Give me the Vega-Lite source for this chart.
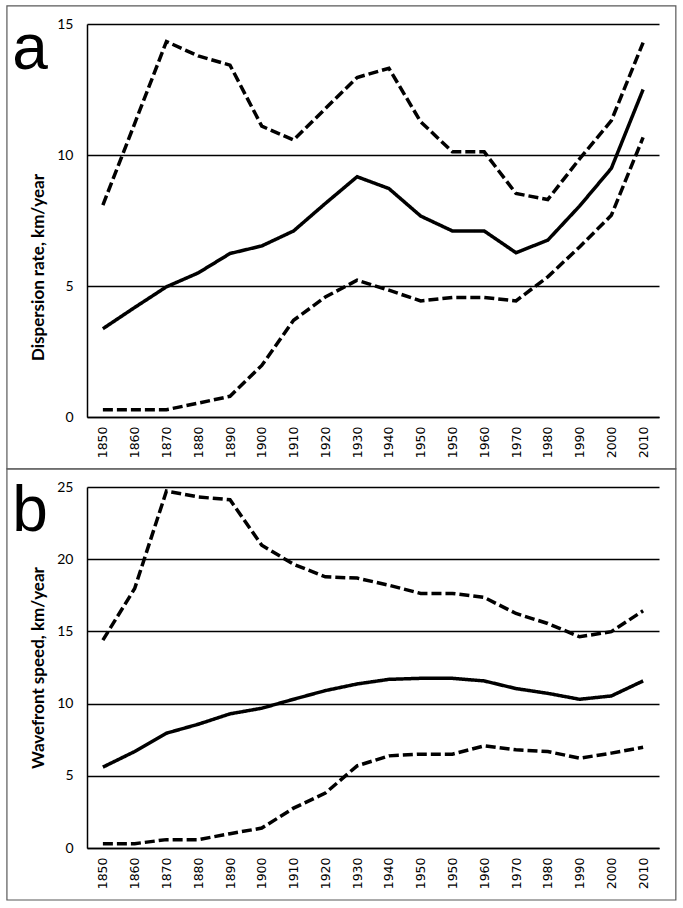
{
  "$schema": "https://vega.github.io/schema/vega-lite/v6.json",
  "padding": {"left": 6, "top": 5, "right": 2, "bottom": 2},
  "background": "white",
  "spacing": 70,
  "bounds": "flush",
  "config": {
    "view": {"stroke": null}
  },
  "datasets": {
    "a": [
      {"i":0,"year":"1850","s":"hi","v":8.09},{"i":1,"year":"1860","s":"hi","v":11.2},{"i":2,"year":"1870","s":"hi","v":14.33},{"i":3,"year":"1880","s":"hi","v":13.78},{"i":4,"year":"1890","s":"hi","v":13.43},{"i":5,"year":"1900","s":"hi","v":11.1},{"i":6,"year":"1910","s":"hi","v":10.57},{"i":7,"year":"1920","s":"hi","v":11.77},{"i":8,"year":"1930","s":"hi","v":12.96},{"i":9,"year":"1940","s":"hi","v":13.31},{"i":10,"year":"1950","s":"hi","v":11.27},{"i":11,"year":"1950","s":"hi","v":10.12},{"i":12,"year":"1960","s":"hi","v":10.12},{"i":13,"year":"1970","s":"hi","v":8.53},{"i":14,"year":"1980","s":"hi","v":8.3},{"i":15,"year":"1990","s":"hi","v":9.85},{"i":16,"year":"2000","s":"hi","v":11.31},{"i":17,"year":"2010","s":"hi","v":14.29},
      {"i":0,"year":"1850","s":"mid","v":3.37},{"i":1,"year":"1860","s":"mid","v":4.18},{"i":2,"year":"1870","s":"mid","v":4.97},{"i":3,"year":"1880","s":"mid","v":5.5},{"i":4,"year":"1890","s":"mid","v":6.24},{"i":5,"year":"1900","s":"mid","v":6.53},{"i":6,"year":"1910","s":"mid","v":7.1},{"i":7,"year":"1920","s":"mid","v":8.15},{"i":8,"year":"1930","s":"mid","v":9.17},{"i":9,"year":"1940","s":"mid","v":8.72},{"i":10,"year":"1950","s":"mid","v":7.67},{"i":11,"year":"1950","s":"mid","v":7.1},{"i":12,"year":"1960","s":"mid","v":7.1},{"i":13,"year":"1970","s":"mid","v":6.27},{"i":14,"year":"1980","s":"mid","v":6.75},{"i":15,"year":"1990","s":"mid","v":8.05},{"i":16,"year":"2000","s":"mid","v":9.49},{"i":17,"year":"2010","s":"mid","v":12.5},
      {"i":0,"year":"1850","s":"lo","v":0.28},{"i":1,"year":"1860","s":"lo","v":0.28},{"i":2,"year":"1870","s":"lo","v":0.28},{"i":3,"year":"1880","s":"lo","v":0.53},{"i":4,"year":"1890","s":"lo","v":0.79},{"i":5,"year":"1900","s":"lo","v":1.97},{"i":6,"year":"1910","s":"lo","v":3.69},{"i":7,"year":"1920","s":"lo","v":4.58},{"i":8,"year":"1930","s":"lo","v":5.22},{"i":9,"year":"1940","s":"lo","v":4.84},{"i":10,"year":"1950","s":"lo","v":4.43},{"i":11,"year":"1950","s":"lo","v":4.56},{"i":12,"year":"1960","s":"lo","v":4.56},{"i":13,"year":"1970","s":"lo","v":4.43},{"i":14,"year":"1980","s":"lo","v":5.35},{"i":15,"year":"1990","s":"lo","v":6.49},{"i":16,"year":"2000","s":"lo","v":7.7},{"i":17,"year":"2010","s":"lo","v":10.67}
    ],
    "b": [
      {"i":0,"year":"1850","s":"hi","v":14.4},{"i":1,"year":"1860","s":"hi","v":17.97},{"i":2,"year":"1870","s":"hi","v":24.72},{"i":3,"year":"1880","s":"hi","v":24.31},{"i":4,"year":"1890","s":"hi","v":24.12},{"i":5,"year":"1900","s":"hi","v":20.97},{"i":6,"year":"1910","s":"hi","v":19.65},{"i":7,"year":"1920","s":"hi","v":18.78},{"i":8,"year":"1930","s":"hi","v":18.69},{"i":9,"year":"1940","s":"hi","v":18.2},{"i":10,"year":"1950","s":"hi","v":17.63},{"i":11,"year":"1950","s":"hi","v":17.63},{"i":12,"year":"1960","s":"hi","v":17.35},{"i":13,"year":"1970","s":"hi","v":16.24},{"i":14,"year":"1980","s":"hi","v":15.55},{"i":15,"year":"1990","s":"hi","v":14.63},{"i":16,"year":"2000","s":"hi","v":14.98},{"i":17,"year":"2010","s":"hi","v":16.43},
      {"i":0,"year":"1850","s":"mid","v":5.6},{"i":1,"year":"1860","s":"mid","v":6.68},{"i":2,"year":"1870","s":"mid","v":7.95},{"i":3,"year":"1880","s":"mid","v":8.57},{"i":4,"year":"1890","s":"mid","v":9.29},{"i":5,"year":"1900","s":"mid","v":9.68},{"i":6,"year":"1910","s":"mid","v":10.3},{"i":7,"year":"1920","s":"mid","v":10.9},{"i":8,"year":"1930","s":"mid","v":11.36},{"i":9,"year":"1940","s":"mid","v":11.68},{"i":10,"year":"1950","s":"mid","v":11.75},{"i":11,"year":"1950","s":"mid","v":11.75},{"i":12,"year":"1960","s":"mid","v":11.57},{"i":13,"year":"1970","s":"mid","v":11.04},{"i":14,"year":"1980","s":"mid","v":10.71},{"i":15,"year":"1990","s":"mid","v":10.3},{"i":16,"year":"2000","s":"mid","v":10.53},{"i":17,"year":"2010","s":"mid","v":11.57},
      {"i":0,"year":"1850","s":"lo","v":0.3},{"i":1,"year":"1860","s":"lo","v":0.3},{"i":2,"year":"1870","s":"lo","v":0.58},{"i":3,"year":"1880","s":"lo","v":0.58},{"i":4,"year":"1890","s":"lo","v":0.99},{"i":5,"year":"1900","s":"lo","v":1.38},{"i":6,"year":"1910","s":"lo","v":2.76},{"i":7,"year":"1920","s":"lo","v":3.8},{"i":8,"year":"1930","s":"lo","v":5.69},{"i":9,"year":"1940","s":"lo","v":6.38},{"i":10,"year":"1950","s":"lo","v":6.5},{"i":11,"year":"1950","s":"lo","v":6.5},{"i":12,"year":"1960","s":"lo","v":7.07},{"i":13,"year":"1970","s":"lo","v":6.8},{"i":14,"year":"1980","s":"lo","v":6.68},{"i":15,"year":"1990","s":"lo","v":6.22},{"i":16,"year":"2000","s":"lo","v":6.57},{"i":17,"year":"2010","s":"lo","v":6.98}
    ]
  },
  "vconcat": [
    {
      "width": 572,
      "height": 393,
      "layer": [
        {
          "data": {"name": "a"},
          "mark": {"type": "line", "color": "black", "strokeWidth": 3.5},
          "encoding": {
            "x": {"field": "i", "type": "quantitative", "scale": {"domain": [-0.5, 17.5], "nice": false, "zero": false},
                  "axis": {"values": [0,1,2,3,4,5,6,7,8,9,10,11,12,13,14,15,16,17], "tickCount": 40, "labelExpr": "['1850','1860','1870','1880','1890','1900','1910','1920','1930','1940','1950','1950','1960','1970','1980','1990','2000','2010'][datum.value]",
                           "title": null, "grid": false, "ticks": false, "labelAngle": -90, "labelAlign": "right", "labelBaseline": "middle", "labelPadding": 9, "labelFont": "DejaVu Sans", "labelFontSize": 12.5, "labelColor": "black", "domainColor": "black", "domainWidth": 1.5, "labelFlush": false, "labelOverlap": false, "labelBound": false}},
            "y": {"field": "v", "type": "quantitative", "scale": {"domain": [0, 15], "nice": false},
                  "axis": {"values": [0, 5, 10, 15], "title": "Dispersion rate, km/year", "titleY": 243,
                           "grid": true, "gridColor": "black", "gridWidth": 1.4, "gridOpacity": 1, "ticks": false, "domainColor": "black", "domainWidth": 1.5, "labelFont": "Lato", "labelFontSize": 14, "labelColor": "black", "labelPadding": 14, "labelOverlap": false, "titleFont": "Lato", "titleFontSize": 17, "titleFontWeight": "bold", "titleColor": "black", "titlePadding": 9}},
            "strokeDash": {"field": "s", "type": "nominal", "scale": {"domain": ["hi", "mid", "lo"], "range": [[10, 4], [1, 0], [10, 4]]}, "legend": null}
          }
        },
        {
          "data": {"values": [{}]},
          "mark": {"type": "rect", "filled": false, "stroke": "#595959", "strokeWidth": 1.2},
          "encoding": {
            "x": {"datum": -3.02, "type": "quantitative", "scale": {"domain": [-0.5, 17.5], "nice": false, "zero": false}},
            "x2": {"datum": 18.03},
            "y": {"datum": 15.69, "type": "quantitative", "scale": {"domain": [0, 15], "nice": false}},
            "y2": {"datum": -1.985}
          }
        },
        {
          "data": {"values": [{"t": "a"}]},
          "mark": {"type": "text", "font": "Liberation Sans", "fontSize": 64, "align": "left", "baseline": "alphabetic", "color": "black"},
          "encoding": {
            "text": {"field": "t"},
            "x": {"datum": -2.85, "type": "quantitative", "scale": {"domain": [-0.5, 17.5], "nice": false, "zero": false}},
            "y": {"datum": 13.3, "type": "quantitative", "scale": {"domain": [0, 15], "nice": false}}
          }
        }
      ]
    },
    {
      "width": 572,
      "height": 361,
      "layer": [
        {
          "data": {"name": "b"},
          "mark": {"type": "line", "color": "black", "strokeWidth": 3.5},
          "encoding": {
            "x": {"field": "i", "type": "quantitative", "scale": {"domain": [-0.5, 17.5], "nice": false, "zero": false},
                  "axis": {"values": [0,1,2,3,4,5,6,7,8,9,10,11,12,13,14,15,16,17], "tickCount": 40, "labelExpr": "['1850','1860','1870','1880','1890','1900','1910','1920','1930','1940','1950','1950','1960','1970','1980','1990','2000','2010'][datum.value]",
                           "title": null, "grid": false, "ticks": false, "labelAngle": -90, "labelAlign": "right", "labelBaseline": "middle", "labelPadding": 9, "labelFont": "DejaVu Sans", "labelFontSize": 12.5, "labelColor": "black", "domainColor": "black", "domainWidth": 1.5, "labelFlush": false, "labelOverlap": false, "labelBound": false}},
            "y": {"field": "v", "type": "quantitative", "scale": {"domain": [0, 25], "nice": false},
                  "axis": {"values": [0, 5, 10, 15, 20, 25], "title": "Wavefront speed, km/year",
                           "grid": true, "gridColor": "black", "gridWidth": 1.4, "gridOpacity": 1, "ticks": false, "domainColor": "black", "domainWidth": 1.5, "labelFont": "Lato", "labelFontSize": 14, "labelColor": "black", "labelPadding": 14, "labelOverlap": false, "titleFont": "Lato", "titleFontSize": 17, "titleFontWeight": "bold", "titleColor": "black", "titlePadding": 9}},
            "strokeDash": {"field": "s", "type": "nominal", "scale": {"domain": ["hi", "mid", "lo"], "range": [[10, 4], [1, 0], [10, 4]]}, "legend": null}
          }
        },
        {
          "data": {"values": [{}]},
          "mark": {"type": "rect", "filled": false, "stroke": "#595959", "strokeWidth": 1.2},
          "encoding": {
            "x": {"datum": -3.02, "type": "quantitative", "scale": {"domain": [-0.5, 17.5], "nice": false, "zero": false}},
            "x2": {"datum": 18.03},
            "y": {"datum": 26.25, "type": "quantitative", "scale": {"domain": [0, 25], "nice": false}},
            "y2": {"datum": -3.6}
          }
        },
        {
          "data": {"values": [{"t": "b"}]},
          "mark": {"type": "text", "font": "Liberation Sans", "fontSize": 64, "align": "left", "baseline": "alphabetic", "color": "black"},
          "encoding": {
            "text": {"field": "t"},
            "x": {"datum": -2.85, "type": "quantitative", "scale": {"domain": [-0.5, 17.5], "nice": false, "zero": false}},
            "y": {"datum": 21.95, "type": "quantitative", "scale": {"domain": [0, 25], "nice": false}}
          }
        }
      ]
    }
  ]
}
